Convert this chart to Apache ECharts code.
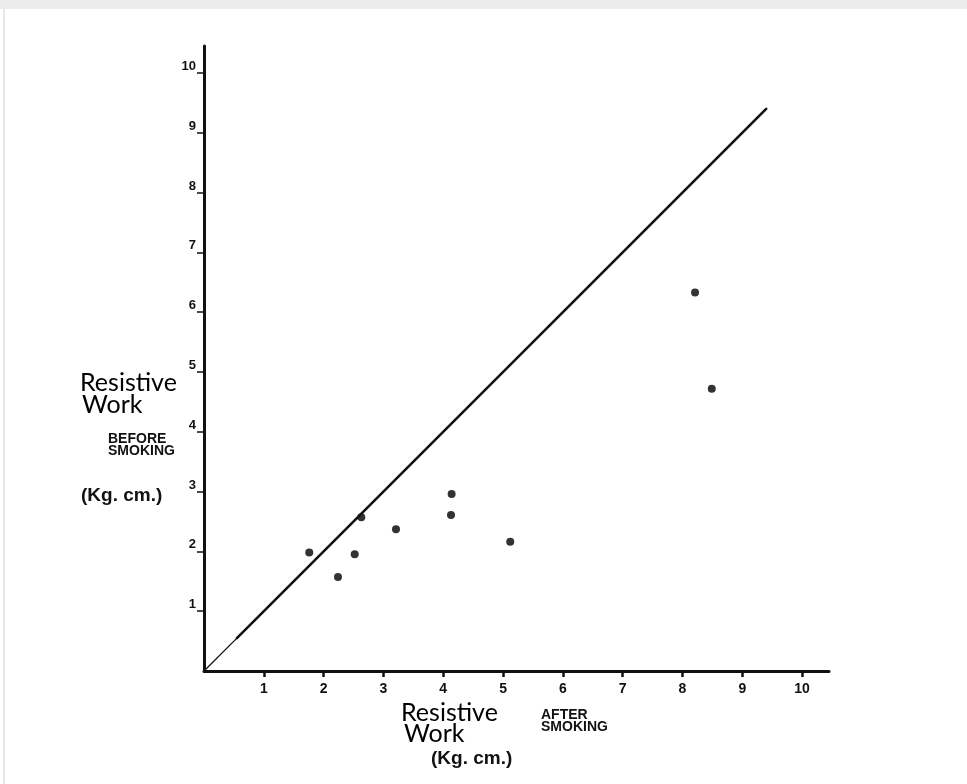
<!DOCTYPE html>
<html>
<head>
<meta charset="utf-8">
<script src="https://cdn.jsdelivr.net/npm/echarts@6/dist/echarts.min.js"></script>
<style>
  html, body { margin: 0; padding: 0; background: #ffffff; }
  #chart { width: 967px; height: 784px; }
</style>
</head>
<body>
<div id="chart"></div>
<script>
// Resistive work (Kg. cm.) of each subject: after smoking (x) vs before smoking (y)
const afterSmoking  = [1.76, 2.24, 2.52, 2.63, 3.21, 4.14, 4.13, 5.12, 8.21, 8.49];
const beforeSmoking = [1.98, 1.57, 1.95, 2.57, 2.37, 2.96, 2.61, 2.16, 6.33, 4.72];

// Line of identity (before = after)
const identityStart = 0;
const identityBend = 0.55;
const identityEnd = 9.4;

// Tick values shown on both axes
const tickValues = [1, 2, 3, 4, 5, 6, 7, 8, 9, 10];
const axisMax = 10.45;

const points = afterSmoking.map((x, i) => [x, beforeSmoking[i]]);

const labelFont = '"Liberation Sans", Arial, sans-serif';
const titleFont = 'Lato, "Noto Sans", sans-serif';

const chart = echarts.init(document.getElementById('chart'), null, { renderer: 'canvas' });

chart.setOption({
  backgroundColor: '#ffffff',
  animation: false,
  grid: { left: 204, top: 46, width: 625, height: 625, containLabel: false },
  xAxis: {
    type: 'value',
    min: 0,
    max: axisMax,
    splitLine: { show: false },
    axisLine: { lineStyle: { color: '#111', width: 3 } },
    axisTick: { customValues: tickValues, length: 6, lineStyle: { color: '#111', width: 2.5 } },
    axisLabel: {
      customValues: tickValues,
      margin: 11,
      color: '#111',
      fontFamily: labelFont,
      fontWeight: 'bold',
      fontSize: 14
    }
  },
  yAxis: {
    type: 'value',
    min: 0,
    max: axisMax,
    splitLine: { show: false },
    axisLine: { lineStyle: { color: '#111', width: 3 } },
    axisTick: { customValues: tickValues, length: 7, lineStyle: { color: '#111', width: 1.5 } },
    axisLabel: {
      customValues: tickValues,
      margin: 8,
      color: '#111',
      fontFamily: labelFont,
      fontWeight: 'bold',
      fontSize: 13,
      verticalAlign: 'bottom'
    }
  },
  series: [
    {
      type: 'line',
      data: [[identityStart, identityStart], [identityBend, identityBend]],
      symbol: 'none',
      silent: true,
      lineStyle: { color: '#111', width: 1.3 }
    },
    {
      type: 'line',
      data: [[identityBend, identityBend], [identityEnd, identityEnd]],
      symbol: 'none',
      silent: true,
      lineStyle: { color: '#111', width: 2.6, cap: 'round' }
    },
    {
      type: 'scatter',
      data: points,
      symbol: 'circle',
      symbolSize: 8,
      itemStyle: { color: '#000' }
    }
  ],
  graphic: [
    // scanned page edge
    { type: 'rect', shape: { x: 0, y: 0, width: 967, height: 9 }, style: { fill: '#ececec' }, silent: true },
    { type: 'line', shape: { x1: 4, y1: 9, x2: 4, y2: 784 }, style: { stroke: '#e0e0e0', lineWidth: 1.5 }, silent: true },

    // y-axis title
    { type: 'text', left: 80, top: 370, style: { text: 'Resistive', font: '25px ' + titleFont, fill: '#000' } },
    { type: 'text', left: 82, top: 392, style: { text: 'Work', font: '25px ' + titleFont, fill: '#000' } },
    { type: 'text', left: 108, top: 432, style: { text: 'BEFORE\nSMOKING', font: 'bold 14px ' + labelFont, fill: '#111', lineHeight: 12 } },
    { type: 'text', left: 81, top: 486, style: { text: '(Kg. cm.)', font: 'bold 19px ' + labelFont, fill: '#111' } },

    // x-axis title
    { type: 'text', left: 401, top: 700, style: { text: 'Resistive', font: '25px ' + titleFont, fill: '#000' } },
    { type: 'text', left: 404, top: 721, style: { text: 'Work', font: '25px ' + titleFont, fill: '#000' } },
    { type: 'text', left: 541, top: 708, style: { text: 'AFTER\nSMOKING', font: 'bold 14px ' + labelFont, fill: '#111', lineHeight: 12 } },
    { type: 'text', left: 431, top: 749, style: { text: '(Kg. cm.)', font: 'bold 19px ' + labelFont, fill: '#111' } }
  ]
});
</script>
</body>
</html>
